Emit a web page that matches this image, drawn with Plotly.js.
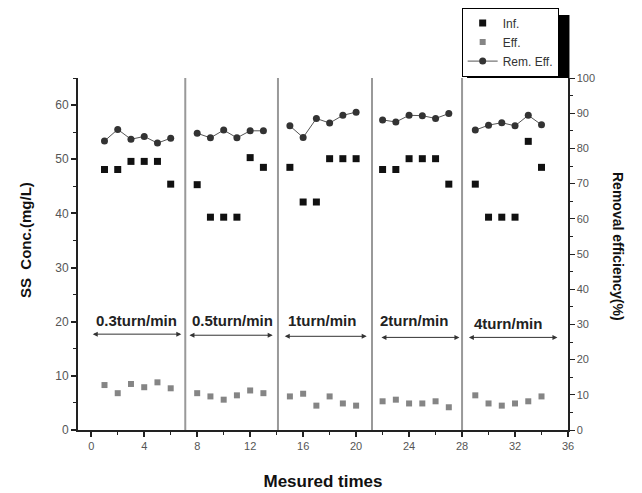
<!DOCTYPE html>
<html>
<head>
<meta charset="utf-8">
<script src="https://cdn.plot.ly/plotly-3.0.1.min.js"></script>
<style>html,body{margin:0;padding:0;background:#fff;}#chart{width:642px;height:493px;}</style>
</head>
<body>
<div id="chart"></div>
<script>
// measurement index (x)
const times = [1,2,3,4,5,6, 8,9,10,11,12,13, 15,16,17,18,19,20, 22,23,24,25,26,27, 29,30,31,32,33,34];
// Influent SS (mg/L)
const infSS = [48.1,48.1,49.6,49.6,49.6,45.4, 45.3,39.3,39.3,39.3,50.3,48.5, 48.5,42.1,42.1,50.1,50.1,50.1, 48.1,48.1,50.1,50.1,50.1,45.4, 45.4,39.3,39.3,39.3,53.3,48.5];
// Effluent SS (mg/L)
const effSS = [8.3,6.8,8.5,7.9,8.8,7.7, 6.8,6.2,5.6,6.4,7.3,6.8, 6.2,6.7,4.5,6.2,4.9,4.5, 5.3,5.6,4.9,4.9,5.3,4.2, 6.4,4.9,4.5,4.9,5.3,6.2];
// Removal efficiency (%) per group
const remGroups = [
  [82.1,85.4,82.6,83.4,81.5,82.9],
  [84.3,83.0,85.2,83.0,85.0,85.0],
  [86.4,83.1,88.5,87.2,89.4,90.3],
  [88.1,87.5,89.4,89.3,88.5,89.9],
  [85.2,86.6,87.3,86.4,89.4,86.7]
];
const groupTimes = [[1,2,3,4,5,6],[8,9,10,11,12,13],[15,16,17,18,19,20],[22,23,24,25,26,27],[29,30,31,32,33,34]];
// group boundaries (x)
const separators = [7.1, 14.1, 21.2, 28.0];
// rotation speed labels
const speedLabels = ['0.3turn/min','0.5turn/min','1turn/min','2turn/min','4turn/min'];
const speedLabelX = [3.4, 10.7, 17.4, 24.4, 31.5];
const speedLabelY = [20.3, 20.3, 20.3, 20.3, 19.7];
const arrowStart = [0.0, 7.3, 14.5, 21.8, 28.4];
const arrowEnd = [6.8, 13.7, 20.8, 27.8, 35.2];
const arrowY = [17.7, 17.5, 17.3, 17.1, 17.1];

const FONT = 'Liberation Sans, Arial';
const traces = [
  {x: times, y: infSS, name: 'Inf.', type: 'scatter', mode: 'markers',
   marker: {symbol: 'square', size: 7, color: '#111'}},
  {x: times, y: effSS, name: 'Eff.', type: 'scatter', mode: 'markers',
   marker: {symbol: 'square', size: 6, color: '#858585'}}
];
remGroups.forEach((g, i) => {
  traces.push({x: groupTimes[i], y: g, name: 'Rem. Eff.', type: 'scatter', mode: 'lines+markers',
    yaxis: 'y2', showlegend: i === 0, legendgroup: 'rem',
    line: {color: '#555', width: 1}, marker: {symbol: 'circle', size: 7, color: '#333'}});
});

const shapes = separators.map(s => ({type: 'line', xref: 'x', yref: 'paper', x0: s, x1: s, y0: 0, y1: 1,
  line: {color: '#999', width: 2}, layer: 'below'}));
// legend drop shadow
shapes.push({type: 'rect', xref: 'paper', yref: 'paper', x0: 0.794, x1: 1.003, y0: 1.0, y1: 1.179,
  fillcolor: '#000', line: {width: 0}, layer: 'above'});

const annotations = [];
speedLabels.forEach((t, i) => {
  annotations.push({x: speedLabelX[i], y: speedLabelY[i], xref: 'x', yref: 'y', text: t, showarrow: false,
    font: {family: FONT, size: 15, color: '#222', weight: 'bold'}});
  annotations.push({x: arrowEnd[i], y: arrowY[i], ax: arrowStart[i], ay: arrowY[i], xref: 'x', yref: 'y',
    axref: 'x', ayref: 'y', text: '', showarrow: true, arrowhead: 2, arrowside: 'end+start',
    arrowsize: 1, arrowwidth: 1, arrowcolor: '#333', standoff: 0, startstandoff: 0});
});
annotations.push({xref: 'paper', yref: 'paper', x: (25 - 78) / 490, y: (430 - 240) / 352, xanchor: 'center', yanchor: 'middle',
  text: 'SS  Conc.(mg/L)', textangle: -90, showarrow: false, font: {family: FONT, size: 15, color: '#111', weight: 'bold'}});
annotations.push({xref: 'paper', yref: 'paper', x: (618 - 78) / 490, y: (430 - 246) / 352, xanchor: 'center', yanchor: 'middle',
  text: 'Removal efficiency(%)', textangle: 90, showarrow: false, font: {family: FONT, size: 14, color: '#111', weight: 'bold'}});

const layout = {
  width: 642, height: 493,
  margin: {l: 78, r: 74, t: 78, b: 63, autoexpand: false},
  paper_bgcolor: '#fff', plot_bgcolor: '#fff',
  showlegend: true,
  legend: {x: 0.783, y: 1.2, xanchor: 'left', yanchor: 'top', bgcolor: '#fff', bordercolor: '#000', borderwidth: 1,
    font: {family: FONT, size: 12, color: '#333'}, tracegroupgap: 0},
  xaxis: {range: [-1, 36], tickvals: [0,4,8,12,16,20,24,28,32,36], ticks: 'outside', ticklen: 5, tickwidth: 2,
    tickcolor: '#222', showline: true, linecolor: '#222', linewidth: 2, showgrid: false, zeroline: false,
    tickfont: {family: FONT, size: 11, color: '#555'},
    minor: {dtick: 2, tick0: 0, ticks: 'outside', ticklen: 3, tickwidth: 1, tickcolor: '#222', showgrid: false},
    title: {text: 'Mesured times', standoff: 24, font: {family: FONT, size: 17, color: '#111', weight: 'bold'}}},
  yaxis: {range: [0, 65], dtick: 10, tick0: 0, ticks: 'outside', ticklen: 5, tickwidth: 2, tickcolor: '#222',
    showline: true, linecolor: '#222', linewidth: 2, showgrid: false, zeroline: false,
    tickfont: {family: FONT, size: 12, color: '#555'},
    minor: {dtick: 5, tick0: 0, ticks: 'outside', ticklen: 3, tickwidth: 1, tickcolor: '#222', showgrid: false}},
  yaxis2: {range: [0, 100], dtick: 10, tick0: 0, overlaying: 'y', side: 'right', ticks: 'outside', ticklen: 5,
    tickwidth: 1, tickcolor: '#222', showline: true, linecolor: '#222', linewidth: 1.5, showgrid: false, zeroline: false,
    tickfont: {family: FONT, size: 11, color: '#555'},
    minor: {dtick: 5, tick0: 0, ticks: 'outside', ticklen: 3, tickwidth: 1, tickcolor: '#222', showgrid: false}},
  shapes: shapes,
  annotations: annotations
};
Plotly.newPlot('chart', traces, layout, {displayModeBar: false, staticPlot: true});
</script>
</body>
</html>
